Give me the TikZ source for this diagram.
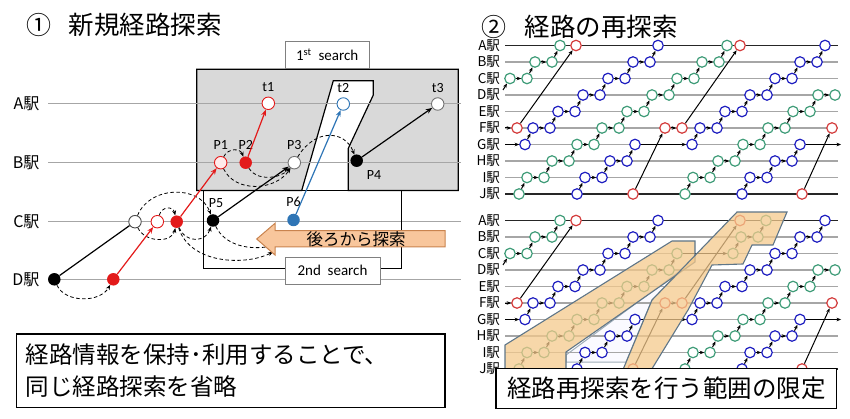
\documentclass[tikz,border=0pt]{standalone}
\usepackage{fontspec}
\setmainfont{Carlito}
\newfontfamily\jp{Noto Sans CJK JP}
\usetikzlibrary{arrows.meta}
\definecolor{boxgray}{HTML}{D9D9D9}
\definecolor{lred}{HTML}{E31A1A}
\definecolor{lblue}{HTML}{2E75B6}
\definecolor{grn}{HTML}{3F9C78}
\definecolor{blu}{HTML}{1E1EC0}
\definecolor{rd}{HTML}{D43C3C}
\definecolor{hlfill}{HTML}{F4C98C}
\definecolor{hledge}{HTML}{5F7688}
\definecolor{backfill}{HTML}{F8C69C}
\definecolor{backedge}{HTML}{C9834E}
\tikzset{
    sline/.style={draw=black!35, line width=1.1pt},
    kline/.style={draw=black!85, line width=1.1pt},
    ptopen/.style={circle, draw=#1, fill=white, minimum size=12.5pt, inner sep=0pt, line width=0.9pt},
    ptfull/.style={circle, fill=#1, minimum size=12.5pt, inner sep=0pt},
    tcirc/.style={circle, draw=#1, fill=white, minimum size=10.5pt, inner sep=0pt, line width=1.2pt},
    tarrow/.style={-{Stealth[length=4.5pt,width=3.6pt]}, line width=1pt},
    runarrow/.style={-{Stealth[length=6.5pt,width=5pt]}, line width=1.2pt},
    backarc/.style={dash pattern=on 3.5pt off 2.5pt, -{Stealth[length=5pt,width=4pt]}, line width=0.8pt},
    lbl/.style={font=\fontsize{14}{14}\selectfont, label distance=3pt},
    slabel/.style={anchor=east, font=\jp\fontsize{13.5}{13.5}\selectfont},
    region/.style={fill=hlfill, fill opacity=0.75, draw=hledge, line width=1.1pt},
}
% staircase train: name, colour, x0, first station, last station, y of J
\newcommand{\stair}[6]{%
    \node[tcirc=#2] (#1d#4) at ({#3+25*#4},{#6-16.5*#4}) {};
    \pgfmathtruncatemacro{\kfirst}{#4+1}%
    \foreach \k [evaluate=\k as \kp using int(\k-1)] in {\kfirst,...,#5}{
        \node[tcirc=#2] (#1a\k) at ({#3+25*\k-17},{#6-16.5*\k}) {};
        \draw[tarrow] (#1d\kp) -- (#1a\k);
        \ifnum\k<#5\relax
            \node[tcirc=#2] (#1d\k) at ({#3+25*\k},{#6-16.5*\k}) {};
            \draw[tarrow] (#1a\k) -- (#1d\k);
        \fi
    }%
}
\newcommand{\stations}[2]{%
    \foreach \s/\n in {0/J,1/I,2/H,3/G,4/F,5/E,6/D,7/C,8/B,9/A}{
        \draw[sline] (505,{#2-16.5*\s}) -- (838,{#2-16.5*\s});
        \node[slabel] (#1s\s) at (503.5,{#2-16.5*\s}) {\n{}駅};
    }
    \draw[kline] (505,{#2-148.5}) -- (838,{#2-148.5});
    \draw[kline] (505,#2) -- (838,#2);
}
\newcommand{\trains}[2]{%
    \coordinate (#1t1in) at (503,{#2-104});
    \stair{#1t1}{grn}{352}{7}{9}{#2}
    \node[tcirc=grn] (#1t1a7) at (510,{#2-115.5}) {};
    \draw[tarrow] (#1t1in) -- (#1t1a7);
    \draw[tarrow] (#1t1a7) -- (#1t1d7);
    \coordinate (#1r1in) at (505,{#2-66});
    \node[tcirc=rd] (#1r1f) at (517,{#2-66}) {};
    \node[tcirc=rd] (#1r1a) at (576,{#2-148.5}) {};
    \draw[tarrow] (#1r1in) -- (#1r1f);
    \draw[tarrow] (#1r1f) -- (#1r1a);
    \coordinate (#1b1in) at (505,{#2-49.5});
    \stair{#1b1}{blu}{450}{3}{9}{#2}
    \draw[tarrow] (#1b1in) -- (#1b1d3);
    \stair{#1b2}{blu}{577}{0}{3}{#2}
    \stair{#1b2x}{blu}{617}{3}{9}{#2}
    \draw[tarrow] (#1b2a3) -- (#1b2xd3);
    \node[tcirc=rd] (#1r2j) at (633,#2) {};
    \node[tcirc=rd] (#1r2f) at (665,{#2-66}) {};
    \node[tcirc=rd] (#1r2g) at (682,{#2-66}) {};
    \node[tcirc=rd] (#1r2a) at (740,{#2-148.5}) {};
    \draw[tarrow] (#1r2j) -- (#1r2f);
    \draw[tarrow] (#1r2f) -- (#1r2g);
    \draw[tarrow] (#1r2g) -- (#1r2a);
    \stair{#1g3}{grn}{685}{0}{6}{#2}
    \node[tcirc=grn] (#1g3d6) at (835,{#2-99}) {};
    \draw[tarrow] (#1g3a6) -- (#1g3d6);
    \stair{#1b3}{blu}{742}{0}{3}{#2}
    \coordinate (#1b3out) at (841,{#2-49.5});
    \draw[tarrow] (#1b3a3) -- (#1b3out);
    \node[tcirc=rd] (#1r3j) at (802,#2) {};
    \node[tcirc=rd] (#1r3f) at (832,{#2-66}) {};
    \draw[tarrow] (#1r3j) -- (#1r3f);
}
\begin{document}
\begin{tikzpicture}[x=1pt,y=-1pt]
\useasboundingbox (0,0) rectangle (850,419);
\node[font=\jp\fontsize{25}{25}\selectfont] (num1) at (39,25) {①};
\node[font=\jp\fontsize{25.5}{25.5}\selectfont, anchor=west] (head1) at (65,25) {新規経路探索};
\node[font=\jp\fontsize{25}{25}\selectfont] (num2) at (494,27) {②};
\node[font=\jp\fontsize{25.5}{25.5}\selectfont, anchor=west] (head2) at (521,27) {経路の再探索};

\filldraw[fill=boxgray, line width=1.2pt] (196.7,69.3) -- (458.3,69.3) -- (458.3,190.5) -- (348.3,190.5) -- (348.3,148.3) -- (373.3,95) -- (373.3,80.7) -- (333.3,80.7) -- (301.7,190.5) -- (196.7,190.5) -- cycle;
\foreach \y/\n in {103.3/A,162.7/B,221.7/C,279.3/D}{
    \draw[sline] (48,\y) -- (460.7,\y);
    \node[anchor=east, font=\jp\fontsize{16}{16}\selectfont] (st\n) at (43,\y) {\n{}駅};
}
\draw[line width=1.2pt] (203.3,190.5) rectangle (401.7,268.3);
\node[draw=black!50, fill=white, minimum width=84pt, minimum height=26.6pt, font=\fontsize{15}{15}\selectfont] (first) at (327.2,55) {1\textsuperscript{st}\ \ search};

\node[ptfull=black] (d1) at (54.3,279.3) {};
\node[ptfull=lred] (d2) at (113.3,279.3) {};
\node[ptopen=black!70] (c1) at (135,221.7) {};
\node[ptopen=lred] (c2) at (157.3,221.7) {};
\node[ptfull=lred] (c3) at (176.7,221.7) {};
\node[ptfull=black, label={[lbl, xshift=3pt]above:P5}] (p5) at (213,220.5) {};
\node[ptfull=lblue, label={[lbl]above:P6}] (p6) at (293.5,220) {};
\node[ptopen=lred, fill=red!8, label={[lbl]above:P1}] (p1) at (220.7,162.7) {};
\node[ptfull=lred, label={[lbl]above:P2}] (p2) at (245.7,162.7) {};
\node[ptopen=black!55, label={[lbl]above:P3}] (p3) at (294.3,162.7) {};
\node[ptfull=black, label={[lbl]below right:P4}] (p4) at (356.7,160.7) {};
\node[ptopen=lred, label={[lbl, label distance=1pt]above:t1}] (t1) at (268.3,103.3) {};
\node[ptopen=lblue, label={[lbl, label distance=1pt]above:t2}] (t2) at (343.3,104) {};
\node[ptopen=black!55, label={[lbl, label distance=1pt]above:t3}] (t3) at (437.7,104) {};
\coordinate (e1) at (273,252);
\coordinate (e2) at (272,246);

\draw[backarc] (d1) .. controls (65,303) and (100,303) .. (d2);
\draw[backarc] (c1) .. controls (150,185) and (200,185) .. (p5);
\draw[backarc] (c2) .. controls (162,206) and (173,206) .. (c3);
\draw[backarc] (c1) .. controls (145,243) and (172,243) .. (c3);
\draw[backarc] (c3) .. controls (186,244) and (206,242) .. (p5);
\draw[backarc] (c3) .. controls (190,264) and (245,266) .. (e1);
\draw[backarc] (p5) .. controls (225,246) and (250,250) .. (e2);
\draw[backarc] (p1) .. controls (228,148) and (240,148) .. (p2);
\draw[backarc] (p1) .. controls (235,193) and (275,191) .. (p3);
\draw[backarc] (p2) .. controls (256,181) and (280,179) .. (p3);
\draw[backarc] (p3) .. controls (315,128) and (345,130) .. (p4);

\draw[line width=1.2pt] (d1) -- (c1);
\draw[runarrow, lred] (d2) -- (c2);
\draw[runarrow, lred] (c3) -- (p1);
\draw[runarrow, lred] (p2) -- (t1);
\draw[runarrow] (p5) -- (p3);
\draw[runarrow, lblue] (p6) -- (t2);
\draw[runarrow] (p4) -- (t3);

\filldraw[fill=backfill, draw=backedge, line width=1pt] (256.7,239) -- (275,223.3) -- (275,230.7) -- (445,230.7) -- (445,247) -- (275,247) -- (275,255) -- cycle;
\node[font=\jp\fontsize{16.5}{16.5}\selectfont] (backtxt) at (356,239) {後ろから探索};
\node[draw=black!50, fill=white, minimum width=95pt, minimum height=26.7pt, font=\fontsize{15}{15}\selectfont] (second) at (332.5,270.7) {2nd\ \ search};

\node[draw, line width=1.1pt, minimum width=428.3pt, minimum height=73.7pt, text width=410pt, align=left, font=\jp\fontsize{23.5}{31.5}\selectfont] (memo) at (230.8,370.8) {経路情報を保持･利用することで、\\同じ経路探索を省略};

\stations{u}{194}
\trains{u}{194}
\stair{ug2}{grn}{519}{0}{9}{194}

\filldraw[fill=blue!2, draw=hledge!60, line width=1pt] (566,355) -- (684,268) -- (652,300) -- (626,362) -- (566,362) -- cycle;
\stations{l}{369}
\trains{l}{369}
\stair{lg2}{grn}{519}{0}{7}{369}
\stair{lg2x}{grn}{558}{7}{9}{369}
\draw[tarrow] (lg2a7) -- (lg2xd7);
\filldraw[region] (505,345) -- (672,241) -- (695,241) -- (695,262) -- (566,352) -- (566,372) -- (505,372) -- cycle;
\filldraw[region] (622,372) -- (652,300) -- (737,212) -- (787,212) -- (773,245) -- (752,245) -- (743,264) -- (712,265) -- (688,310) -- (650,372) -- cycle;

\node[draw, fill=white, line width=1.1pt, minimum width=340.7pt, minimum height=40pt, font=\jp\fontsize{24.5}{24.5}\selectfont] (limit) at (666.3,388.3) {経路再探索を行う範囲の限定};
\end{tikzpicture}
\end{document}
